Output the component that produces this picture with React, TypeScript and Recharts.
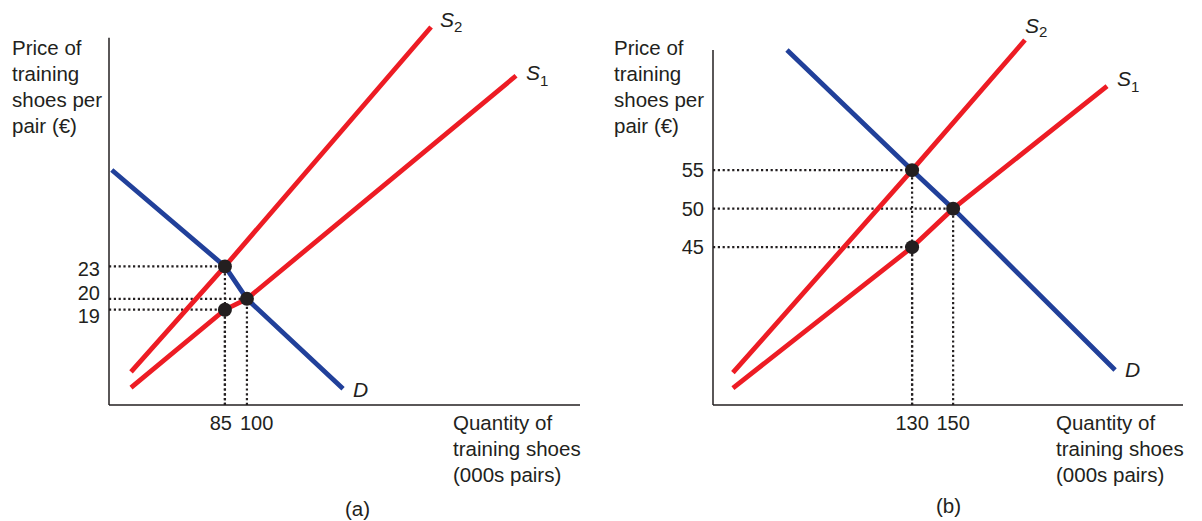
import React from 'react'
import { ComposedChart, Line, Scatter, XAxis, YAxis, ReferenceLine } from 'recharts'

const FONT = '"Liberation Sans", Arial, Helvetica, sans-serif'
const INK = '#231f20'
const RED = '#ed1c24'
const BLUE = '#21409a'

// panel (a): quantity in 000s pairs, price in euro
const QTY_TICKS_A = [85, 100]
const PRICE_TICKS_A = [19, 20, 23]
const DEMAND_A = [
  { q: 7.9, p: 31.9 },
  { q: 85, p: 23 },
  { q: 100, p: 20 },
  { q: 165.5, p: 11.7 },
]
const SUPPLY1_A = [
  { q: 21, p: 11.8 },
  { q: 85, p: 19 },
  { q: 100, p: 20 },
  { q: 283.4, p: 40.6 },
]
const SUPPLY2_A = [
  { q: 21, p: 13.25 },
  { q: 85, p: 23 },
  { q: 225.5, p: 45.1 },
]
const POINTS_A = [
  { q: 85, p: 23 },
  { q: 100, p: 20 },
  { q: 85, p: 19 },
]

// panel (b)
const QTY_TICKS_B = [130, 150]
const PRICE_TICKS_B = [45, 50, 55]
const DEMAND_B = [
  { q: 69.05, p: 70.6 },
  { q: 130, p: 55 },
  { q: 150, p: 50 },
  { q: 228.9, p: 29.05 },
]
const SUPPLY1_B = [
  { q: 42.7, p: 26.7 },
  { q: 130, p: 45 },
  { q: 150, p: 50 },
  { q: 225, p: 65.9 },
]
const SUPPLY2_B = [
  { q: 42.7, p: 28.7 },
  { q: 130, p: 55 },
  { q: 185, p: 71.9 },
]
const POINTS_B = [
  { q: 130, p: 55 },
  { q: 150, p: 50 },
  { q: 130, p: 45 },
]

const PriceTick = (props: any) => {
  const { x, y, payload, nudge } = props
  return (
    <text x={x} y={y + (nudge?.[payload.value] ?? 0)} dy="0.355em" textAnchor="end"
      fontSize={20} fill={INK} fontFamily={FONT}>
      {payload.value}
    </text>
  )
}

const QtyTick = (props: any) => {
  const { x, y, payload, index, spread } = props
  let anchor = 'middle'
  let tx = x
  if (spread) {
    anchor = index === 0 ? 'end' : 'start'
    tx = index === 0 ? x + 7 : x - 7
  }
  return (
    <text x={tx} y={y} dy="0.71em" textAnchor={anchor} fontSize={20} fill={INK} fontFamily={FONT}>
      {payload.value}
    </text>
  )
}

const dotShape = (props: any) => <circle cx={props.cx} cy={props.cy} r={7} fill={INK} />

const endLabel = (props: any) => {
  const { cx, cy, payload } = props
  return (
    <text x={cx + payload.dx} y={cy + payload.dy} fontSize={21} fill={INK} fontFamily={FONT}>
      <tspan fontStyle="italic">{payload.name}</tspan>
      {payload.sub && <tspan fontSize={15} dy={payload.subDy}>{payload.sub}</tspan>}
    </text>
  )
}

function Panel(props: any) {
  const { left, width, margin, xDomain, yDomain, axisTop, qtyTicks, priceTicks,
    demand, supply1, supply2, points, spread, nudge, offsets } = props
  const xMin = xDomain[0]
  const yMin = yDomain[0]
  const last = (arr: any[]) => arr[arr.length - 1]
  const ends = [
    { ...last(supply2), name: 'S', sub: '2', ...offsets.s2 },
    { ...last(supply1), name: 'S', sub: '1', ...offsets.s1 },
    { ...last(demand), name: 'D', ...offsets.d },
  ]
  const dotted = { stroke: INK, strokeWidth: 2.2, strokeDasharray: '2.2 2.6', ifOverflow: 'visible' as const }

  return (
    <div style={{ position: 'absolute', left, top: 0 }}>
      <ComposedChart width={width} height={521} margin={margin}>
        <XAxis type="number" dataKey="q" domain={xDomain} ticks={qtyTicks} interval={0}
          axisLine={{ stroke: INK, strokeWidth: 1.5 }} tickLine={false} tickMargin={5} height={30}
          tick={<QtyTick spread={spread} />} />
        <YAxis type="number" dataKey="p" domain={yDomain} ticks={priceTicks} interval={0}
          axisLine={false} tickLine={false} width={60} tickMargin={3}
          tick={<PriceTick nudge={nudge} />} />
        <ReferenceLine segment={[{ x: xMin, y: yMin }, { x: xMin, y: axisTop }]}
          stroke={INK} strokeWidth={1.5} ifOverflow="visible" />
        {points.map((pt: any, i: number) => (
          <ReferenceLine key={'h' + i} segment={[{ x: xMin, y: pt.p }, { x: pt.q, y: pt.p }]} {...dotted} />
        ))}
        {points.map((pt: any, i: number) => (
          <ReferenceLine key={'v' + i} segment={[{ x: pt.q, y: yMin }, { x: pt.q, y: pt.p }]} {...dotted} />
        ))}
        <Line data={supply2} dataKey="p" type="linear" stroke={RED} strokeWidth={4.8} dot={false}
          activeDot={false} isAnimationActive={false} />
        <Line data={supply1} dataKey="p" type="linear" stroke={RED} strokeWidth={4.8} dot={false}
          activeDot={false} isAnimationActive={false} />
        <Line data={demand} dataKey="p" type="linear" stroke={BLUE} strokeWidth={4.8} dot={false}
          activeDot={false} isAnimationActive={false} />
        <Scatter data={points} dataKey="p" shape={dotShape} isAnimationActive={false} />
        <Scatter data={ends} dataKey="p" shape={endLabel} isAnimationActive={false} />
      </ComposedChart>
    </div>
  )
}

const textStyle: React.CSSProperties = {
  position: 'absolute',
  fontFamily: FONT,
  fontSize: 20.5,
  lineHeight: '26px',
  color: INK,
  whiteSpace: 'nowrap',
}

export default function App() {
  return (
    <div style={{ position: 'absolute', left: 0, top: 0, width: 1202, height: 521, background: '#fff', overflow: 'hidden' }}>
      <Panel
        left={0} width={600}
        margin={{ top: 20, right: 20, bottom: 86, left: 49 }}
        xDomain={[6, 327]} yDomain={[10.2, 45.75]} axisTop={44.1}
        qtyTicks={QTY_TICKS_A} priceTicks={PRICE_TICKS_A}
        demand={DEMAND_A} supply1={SUPPLY1_A} supply2={SUPPLY2_A} points={POINTS_A}
        spread nudge={{ 19: 6, 20: -6, 23: 3 }}
        offsets={{ s2: { dx: 9, dy: 0, subDy: 5 }, s1: { dx: 10, dy: 4, subDy: 6 }, d: { dx: 10, dy: 8 } }}
      />
      <Panel
        left={600} width={602}
        margin={{ top: 20, right: 19, bottom: 86, left: 53 }}
        xDomain={[33, 262]} yDomain={[24.5, 74.5]} axisTop={70.6}
        qtyTicks={QTY_TICKS_B} priceTicks={PRICE_TICKS_B}
        demand={DEMAND_B} supply1={SUPPLY1_B} supply2={SUPPLY2_B} points={POINTS_B}
        offsets={{ s2: { dx: 0, dy: -7, subDy: 4 }, s1: { dx: 10, dy: 0, subDy: 6 }, d: { dx: 10, dy: 7 } }}
      />

      <div style={{ ...textStyle, left: 12, top: 35 }}>Price of<br />training<br />shoes per<br />pair (€)</div>
      <div style={{ ...textStyle, left: 614, top: 35 }}>Price of<br />training<br />shoes per<br />pair (€)</div>
      <div style={{ ...textStyle, left: 453, top: 410 }}>Quantity of<br />training shoes<br />(000s pairs)</div>
      <div style={{ ...textStyle, left: 1056, top: 410 }}>Quantity of<br />training shoes<br />(000s pairs)</div>
      <div style={{ ...textStyle, left: 345, top: 496 }}>(a)</div>
      <div style={{ ...textStyle, left: 936, top: 493 }}>(b)</div>
    </div>
  )
}
